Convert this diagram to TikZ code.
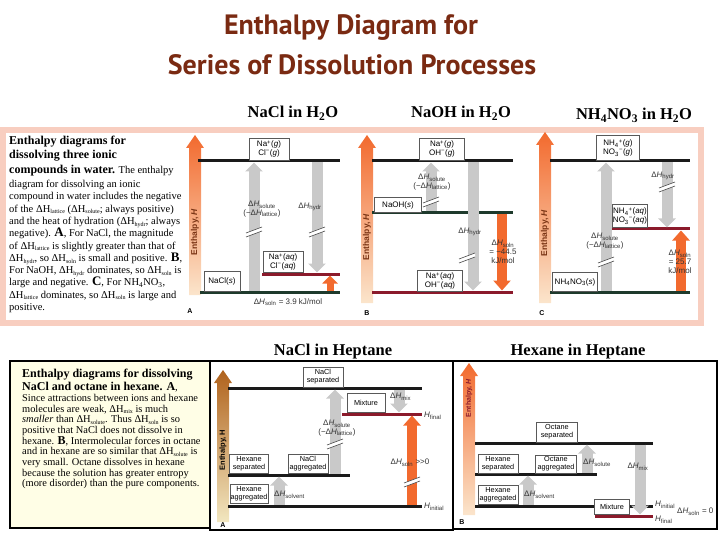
\documentclass[tikz,border=0pt]{standalone}
\usepackage{fontspec}
\usetikzlibrary{arrows.meta}
\setmainfont{Liberation Serif}
\newfontfamily\diagfont{Liberation Sans}
\newfontfamily\titlefont{PT Sans}

\definecolor{titlebrown}{HTML}{7A2A12}
\definecolor{pinkframe}{HTML}{F8CEC0}
\definecolor{levgas}{HTML}{1A1A1A}
\definecolor{levsol}{HTML}{1E3A2C}
\definecolor{levaq}{HTML}{8B1A2B}
\definecolor{bargray}{HTML}{C9C9C9}
\definecolor{barorange}{HTML}{F26A2E}
\definecolor{barpale}{HTML}{FBE5CC}
\definecolor{barbrown}{HTML}{B0621C}
\definecolor{barcream}{HTML}{F2E7C0}
\definecolor{hbrown}{HTML}{7A3414}

\newcommand\dH[1]{ΔH\raisebox{-.35ex}{\fontsize{6}{6}\selectfont #1}}
\newcommand\dHi[1]{Δ\textit{H}\textsubscript{#1}}
\newcommand\bigL[1]{{\fontsize{13}{14}\bfseries #1}}
\newcommand\spfont{\diagfont\fontsize{8}{8.8}\selectfont}
\newcommand\labfont{\diagfont\fontsize{8}{8.8}\selectfont}
% x, top, bottom, top colour, bottom colour
\newcommand\enthalpyarrow[5]{%
  \shade[top color=#4,bottom color=#5] ({#1-6},#3) -- ({#1-6},{#2+13}) -- ({#1-9},{#2+13})
    -- (#1,#2) -- ({#1+9},{#2+13}) -- ({#1+6},{#2+13}) -- ({#1+6},#3) -- cycle;}

\begin{document}
\begin{tikzpicture}[x=1pt,y=-1pt,
  level/.style={line width=3pt},
  gasline/.style={level,draw=levgas},
  solline/.style={level,draw=levsol},
  aqline/.style={level,draw=levaq},
  sp/.style={draw=black!65,line width=.6pt,fill=white,align=center,inner sep=.5pt,font=\spfont},
  spsmall/.style={sp,font=\diagfont\fontsize{7.3}{8}\selectfont},
  garrow/.style={draw=bargray,line width=11pt,shorten <=1.5pt,shorten >=1.5pt,-{Triangle[length=9pt,width=17pt]}},
  oarrow/.style={draw=barorange,line width=10pt,shorten <=1.5pt,shorten >=1.5pt,-{Triangle[length=10pt,width=17pt]}},
  dlab/.style={font=\labfont,align=center,text=black!80,inner sep=0pt},
  hlab/.style={rotate=90,font=\diagfont\fontsize{8.5}{9}\selectfont\bfseries,inner sep=0pt},
  panel/.style={font=\fontsize{16.5}{18}\selectfont\bfseries,anchor=base},
  tag/.style={font=\diagfont\fontsize{7}{8}\selectfont\bfseries,inner sep=0pt},
  brk/.pic={\fill[white] (-8,1) -- (8,-5) -- (8,-1) -- (-8,5) -- cycle;
    \draw[black!70,line width=.6pt] (-8,1) -- (8,-5) (-8,5) -- (8,-1);}]
\useasboundingbox (0,0) rectangle (720,540);

% title
\node[font=\titlefont\fontsize{28}{30}\selectfont\bfseries,text=titlebrown,anchor=base] (title1) at (351,35) {Enthalpy Diagram for};
\node[font=\titlefont\fontsize{28}{30}\selectfont\bfseries,text=titlebrown,anchor=base] (title2) at (352,75) {Series of Dissolution Processes};

% top row: three compounds in water
\draw[pinkframe,line width=6pt] (3,130) rectangle (701,323);
\node[panel] (headA) at (293,118) {NaCl in H\textsubscript{2}O};
\node[panel] (headB) at (461,118) {NaOH in H\textsubscript{2}O};
\node[panel] (headC) at (634,120) {NH\textsubscript{4}NO\textsubscript{3} in H\textsubscript{2}O};

\node[anchor=north west,align=left,inner sep=0pt,font=\fontsize{10.5}{12.3}\selectfont] (textTop) at (9,136) {%
{\fontsize{12}{14}\bfseries Enthalpy diagrams for}\\[2pt]
{\fontsize{12}{14}\bfseries dissolving three ionic}\\[2pt]
{\fontsize{12}{14}\bfseries compounds in water.} The enthalpy\\[2pt]
diagram for dissolving an ionic\\
compound in water includes the negative\\
of the \dH{lattice} (\dH{solute}; always positive)\\
and the heat of hydration (\dH{hydr}; always\\
negative). \bigL{A}, For NaCl, the magnitude\\
of \dH{lattice} is slightly greater than that of\\
\dH{hydr}, so \dH{soln} is small and positive. \bigL{B},\\
For NaOH, \dH{hydr} dominates, so \dH{soln} is\\
large and negative. \bigL{C}, For NH\textsubscript{4}NO\textsubscript{3},\\
\dH{lattice} dominates, so \dH{soln} is large and\\
positive.};

% A: NaCl
\enthalpyarrow{195}{135}{295}{barorange}{barpale}
\node[hlab,text=hbrown] (hA) at (195,232) {Enthalpy, \textit{H}};
\node[tag] (tagA) at (190,311) {A};
\draw[gasline] (198,161) coordinate (gasA) -- (340,161);
\draw[aqline] (262,274) coordinate (aqA) -- (340,274);
\draw[solline] (200,292) coordinate (solA) -- (340,292);
\draw[garrow] (254,0 |- solA) -- (254,0 |- gasA);
\draw[garrow] (317,0 |- gasA) -- (317,0 |- aqA);
\draw[oarrow,line width=7pt,-{Triangle[length=8pt,width=15pt]}] (330,0 |- solA) -- (330,0 |- aqA);
\pic at (254,232) {brk};
\pic at (317,232) {brk};
\node[sp,minimum width=40pt,minimum height=22pt] (gasboxA) at (269,149) {Na\textsuperscript{+}(\textit{g})\\Cl\textsuperscript{−}(\textit{g})};
\node[sp,minimum width=40pt,minimum height=21pt] (aqboxA) at (283,262) {Na\textsuperscript{+}(\textit{aq})\\Cl\textsuperscript{−}(\textit{aq})};
\node[sp,minimum width=36pt,minimum height=20pt] (solboxA) at (222,281) {NaCl(\textit{s})};
\node[dlab] (soluteA) at (262,209) {\dHi{solute}\\(−\dHi{lattice})};
\node[dlab] (hydrA) at (310,207) {\dHi{hydr}};
\node[dlab] (solnA) at (288,302) {\dHi{soln} = 3.9 kJ/mol};

% B: NaOH
\enthalpyarrow{367}{135}{303}{barorange}{barpale}
\node[hlab,text=hbrown] (hB) at (367,237) {Enthalpy, \textit{H}};
\node[tag] (tagB) at (367,313) {B};
\draw[gasline] (372,161) coordinate (gasB) -- (513,161);
\draw[solline] (372,213) coordinate (solB) -- (513,213);
\draw[aqline] (372,292) coordinate (aqB) -- (513,292);
\draw[garrow] (431,0 |- solB) -- (431,0 |- gasB);
\draw[garrow] (473,0 |- gasB) -- (473,0 |- aqB);
\draw[oarrow] (502,0 |- solB) -- (502,0 |- aqB);
\pic at (431,202) {brk};
\pic at (467,258) {brk};
\node[sp,minimum width=45pt,minimum height=22pt] (gasboxB) at (442,149) {Na\textsuperscript{+}(\textit{g})\\OH\textsuperscript{−}(\textit{g})};
\node[sp,minimum width=47pt,minimum height=15pt] (solboxB) at (398,205) {NaOH(\textit{s})};
\node[sp,minimum width=45pt,minimum height=21pt] (aqboxB) at (440,281) {Na\textsuperscript{+}(\textit{aq})\\OH\textsuperscript{−}(\textit{aq})};
\node[dlab] (soluteB) at (432,182) {\dHi{solute}\\(−\dHi{lattice})};
\node[dlab] (hydrB) at (470,232) {\dHi{hydr}};
\node[dlab] (solnB) at (503,252) {\dHi{soln}\\= −44.5\\kJ/mol};

% C: NH4NO3
\enthalpyarrow{545}{132}{303}{barorange}{barpale}
\node[hlab,text=hbrown] (hC) at (545,233) {Enthalpy, \textit{H}};
\node[tag] (tagC) at (542,313) {C};
\draw[gasline] (550,161) coordinate (gasC) -- (690,161);
\draw[aqline] (610,229) coordinate (aqC) -- (690,229);
\draw[solline] (550,292) coordinate (solC) -- (690,292);
\draw[garrow] (606,0 |- solC) -- (606,0 |- gasC);
\draw[garrow] (667,0 |- gasC) -- (667,0 |- aqC);
\draw[oarrow] (681,0 |- solC) -- (681,0 |- aqC);
\pic at (606,262) {brk};
\pic at (667,187) {brk};
\node[sp,minimum width=43pt,minimum height=25pt] (gasboxC) at (618,148) {NH\textsubscript{4}\textsuperscript{+}(\textit{g})\\NO\textsubscript{3}\textsuperscript{−}(\textit{g})};
\node[sp,minimum width=34pt,minimum height=23pt] (aqboxC) at (630,216) {NH\textsubscript{4}\textsuperscript{+}(\textit{aq})\\NO\textsubscript{3}\textsuperscript{−}(\textit{aq})};
\node[sp,minimum width=45pt,minimum height=19pt] (solboxC) at (575,282) {NH\textsubscript{4}NO\textsubscript{3}(\textit{s})};
\node[dlab] (soluteC) at (605,241) {\dHi{solute}\\(−\dHi{lattice})};
\node[dlab] (hydrC) at (663,176) {\dHi{hydr}};
\node[dlab] (solnC) at (680,262) {\dHi{soln}\\= 25.7\\kJ/mol};

% bottom row: solutions in heptane/hexane
\node[panel] (headD) at (333,355) {NaCl in Heptane};
\node[panel] (headE) at (578,355) {Hexane in Heptane};
\draw[line width=2.5pt,fill=yellow!10] (10,361) rectangle (210,528);
\draw[line width=1.5pt] (210,361) rectangle (453,530);
\draw[line width=1.5pt] (453,361) rectangle (717,529);

\node[anchor=north west,align=left,inner sep=0pt,font=\fontsize{10.4}{10.7}\selectfont] (textBot) at (22,369) {%
{\fontsize{12}{14}\bfseries Enthalpy diagrams for dissolving}\\[1pt]
{\fontsize{12}{14}\bfseries NaCl and octane in hexane. A},\\
Since attractions between ions and hexane\\
molecules are weak, \dH{mix} is much\\
\textit{smaller} than \dH{solute}. Thus \dH{soln} is so\\
positive that NaCl does not dissolve in\\
hexane. {\fontsize{12}{12}\bfseries B}, Intermolecular forces in octane\\
and in hexane are so similar that \dH{solute} is\\
very small. Octane dissolves in hexane\\
because the solution has greater entropy\\
(more disorder) than the pure components.};

% A: NaCl in heptane
\enthalpyarrow{223}{370}{522}{barbrown}{barcream}
\node[hlab,font=\diagfont\fontsize{7.5}{8}\selectfont\bfseries] (hD) at (223,450) {Enthalpy, H};
\node[tag] (tagD) at (223,525) {A};
\draw[gasline] (228,388) coordinate (sepD) -- (422,388);
\draw[aqline] (342,414) coordinate (finD) -- (422,414);
\draw[gasline] (228,475) coordinate (midD) -- (350,475);
\draw[gasline] (228,506) coordinate (iniD) -- (422,506);
\draw[garrow] (335,0 |- midD) -- (335,0 |- sepD);
\draw[garrow] (399,0 |- sepD) -- (399,0 |- finD);
\draw[garrow] (279,0 |- iniD) -- (279,0 |- midD);
\draw[oarrow] (412,0 |- iniD) -- (412,0 |- finD);
\pic at (335,444) {brk};
\pic at (412,482) {brk};
\node[spsmall,minimum width=40pt,minimum height=20pt] (naclsep) at (323,377) {NaCl\\separated};
\node[spsmall,minimum width=38pt,minimum height=19pt] (mixD) at (366,403) {Mixture};
\node[spsmall,minimum width=39pt,minimum height=19pt] (hexsepD) at (249,464) {Hexane\\separated};
\node[spsmall,minimum width=40pt,minimum height=19pt] (naclagg) at (308,464) {NaCl\\aggregated};
\node[spsmall,minimum width=38pt,minimum height=19pt] (hexaggD) at (249,494) {Hexane\\aggregated};
\node[dlab] (soluteD) at (337,428) {\dHi{solute}\\(−\dHi{lattice})};
\node[dlab,anchor=west] (mixlabD) at (390,397) {\dHi{mix}};
\node[dlab] (solnD) at (410,463) {\dHi{soln} >>0};
\node[dlab,anchor=west] (solventD) at (274,495) {\dHi{solvent}};
\node[dlab,anchor=west] (HfinD) at (424,416) {\textit{H}\textsubscript{final}};
\node[dlab,anchor=west] (HiniD) at (424,507) {\textit{H}\textsubscript{initial}};

% B: hexane in heptane
\enthalpyarrow{469}{363}{515}{barorange}{barpale}
\node[hlab,text=levaq,font=\diagfont\fontsize{7}{8}\selectfont\bfseries] (hE) at (469,398) {Enthalpy, \textit{H}};
\node[tag] (tagE) at (462,522) {B};
\draw[gasline] (475,443) coordinate (sepE) -- (653,443);
\draw[gasline] (475,474) coordinate (midE) -- (597,474);
\draw[gasline] (475,506) coordinate (iniE) -- (653,506);
\draw[aqline] (595,516) coordinate (finE) -- (653,516);
\draw[garrow] (587,0 |- midE) -- (587,0 |- sepE);
\draw[garrow] (528,0 |- iniE) -- (528,0 |- midE);
\draw[garrow] (640,0 |- sepE) -- (640,0 |- finE);
\node[spsmall,minimum width=41pt,minimum height=20pt] (octsep) at (557,432) {Octane\\separated};
\node[spsmall,minimum width=40pt,minimum height=19pt] (hexsepE) at (498,464) {Hexane\\separated};
\node[spsmall,minimum width=41pt,minimum height=18pt] (octagg) at (556,464) {Octane\\aggregated};
\node[spsmall,minimum width=40pt,minimum height=19pt] (hexaggE) at (498,495) {Hexane\\aggregated};
\node[spsmall,minimum width=35pt,minimum height=15pt] (mixE) at (612,507) {Mixture};
\node[dlab,anchor=west] (soluteE) at (583,463) {\dHi{solute}};
\node[dlab,anchor=west] (solventE) at (524,495) {\dHi{solvent}};
\node[dlab] (mixlabE) at (638,467) {\dHi{mix}};
\node[dlab,anchor=west] (HiniE) at (655,505) {\textit{H}\textsubscript{initial}};
\node[dlab,anchor=west] (HfinE) at (655,520) {\textit{H}\textsubscript{final}};
\node[dlab,anchor=west] (solnE) at (677,512) {\dHi{soln} = 0};
\end{tikzpicture}
\end{document}
